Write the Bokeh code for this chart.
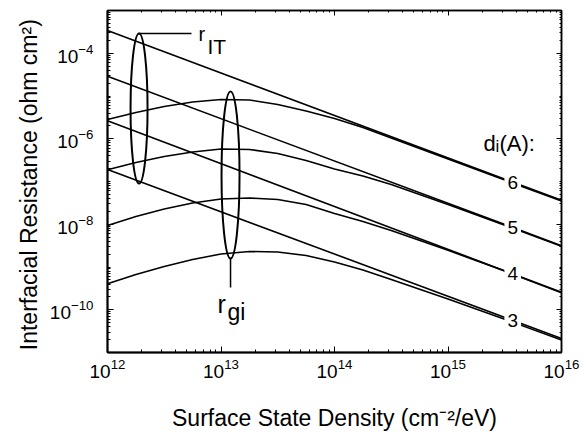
import math
from bokeh.plotting import figure
from bokeh.models import Range1d, FixedTicker, LogAxis, Label
from bokeh.embed import file_html
from bokeh.resources import INLINE

# ---- data ----
nss_line = [1e12, 1e16]
r_it_6 = [3.39e-4, 3.63e-8]
r_it_5 = [2.88e-5, 3.16e-9]
r_it_4 = [2.63e-6, 2.57e-10]
r_it_3 = [1.91e-7, 2.12e-11]

nss_curve = [1e12, 1.78e12, 3.16e12, 5.62e12, 1e13, 1.78e13, 3.16e13,
             5.62e13, 1e14, 1.78e14, 3.16e14, 1e15, 3.16e15, 1e16]
r_gi_6 = [2.82e-6, 4.11e-6, 5.68e-6, 7.24e-6, 8.28e-6, 8.06e-6, 6.33e-6,
          4.46e-6, 2.98e-6, 1.83e-6, 1.04e-6, 3.36e-7, 1.08e-7, 3.50e-8]
r_gi_5 = [1.88e-7, 2.78e-7, 3.85e-7, 4.90e-7, 5.75e-7, 5.61e-7, 4.52e-7,
          3.10e-7, 1.96e-7, 1.35e-7, 8.51e-8, 2.90e-8, 9.45e-9, 3.05e-9]
r_gi_4 = [9.35e-9, 1.52e-8, 2.27e-8, 3.14e-8, 3.90e-8, 4.11e-8, 3.79e-8,
          2.90e-8, 1.78e-8, 1.16e-8, 7.14e-9, 2.46e-9, 8.02e-10, 2.51e-10]
r_gi_3 = [4.05e-10, 6.68e-10, 1.03e-9, 1.50e-9, 2.01e-9, 2.31e-9, 2.24e-9,
          1.86e-9, 1.31e-9, 8.51e-10, 5.11e-10, 1.78e-10, 5.98e-11, 1.96e-11]

thickness_labels = ["6", "5", "4", "3"]
x_ticks = [1e12, 1e13, 1e14, 1e15, 1e16]
y_ticks = [1e-10, 1e-8, 1e-6, 1e-4]

FONT = "Liberation Sans"

p = figure(x_axis_type="log", y_axis_type="log",
           x_range=Range1d(1e12, 1e16), y_range=Range1d(1e-11, 1e-3),
           frame_width=454, frame_height=342,
           output_backend="svg", toolbar_location=None)
p.min_border_left = 107
p.min_border_right = 25
p.min_border_top = 10
p.min_border_bottom = 80
p.background_fill_color = "white"
p.border_fill_color = "white"
p.outline_line_color = "black"
p.outline_line_width = 1.5
p.xgrid.visible = False
p.ygrid.visible = False

x_minor = [k * 10 ** e for e in range(12, 16) for k in range(1, 10)]
y_minor = [k * 10.0 ** e for e in range(-11, -3) for k in range(1, 10)]

for ax in p.xaxis:
    ax.ticker = FixedTicker(ticks=x_ticks, minor_ticks=x_minor)
for ax in p.yaxis:
    ax.ticker = FixedTicker(ticks=y_ticks, minor_ticks=y_minor)

for ax in list(p.xaxis) + list(p.yaxis):
    ax.axis_line_width = 2
    ax.axis_line_color = "black"
    ax.major_tick_in = 6
    ax.major_tick_out = 0
    ax.minor_tick_in = 3
    ax.minor_tick_out = 0
    ax.major_tick_line_color = "black"
    ax.minor_tick_line_color = "black"
    ax.major_label_text_font = FONT
    ax.major_label_text_font_size = "19px"
    ax.major_label_text_color = "black"
    ax.axis_label_text_font = FONT
    ax.axis_label_text_font_size = "23px"
    ax.axis_label_text_font_style = "normal"
    ax.axis_label_text_color = "black"

p.xaxis.axis_label = "Surface State Density (cm\u207b\u00b2/eV)"
p.xaxis.major_label_standoff = 6
p.xaxis.axis_label_standoff = 24
p.yaxis.axis_label = "Interfacial  Resistance (ohm cm\u00b2)"
p.yaxis.major_label_standoff = 14
p.yaxis.axis_label_standoff = 5

# mirror ticks on top and right
top = LogAxis(ticker=FixedTicker(ticks=x_ticks, minor_ticks=x_minor),
              major_label_text_font_size="1px", major_label_text_color=None,
              major_tick_in=5, major_tick_out=0,
              minor_tick_in=2, minor_tick_out=0, major_label_standoff=0,
              axis_line_width=1.5)
right = LogAxis(ticker=FixedTicker(ticks=y_ticks, minor_ticks=y_minor),
                major_label_text_font_size="1px", major_label_text_color=None,
                major_tick_in=5, major_tick_out=0,
                minor_tick_in=2, minor_tick_out=0, major_label_standoff=0,
                axis_line_width=1.5)
p.add_layout(top, "above")
p.add_layout(right, "right")

lw = 1.6
for r in (r_it_6, r_it_5, r_it_4, r_it_3):
    p.line(nss_line, r, line_color="black", line_width=lw)
for r in (r_gi_6, r_gi_5, r_gi_4, r_gi_3):
    p.line(nss_curve, r, line_color="black", line_width=lw)

# ellipses marking the two families
p.ellipse(x=[10 ** 12.278], y=[10 ** -5.292], width=17, height=150,
          width_units="screen", height_units="screen",
          fill_color=None, line_color="black", line_width=2)
p.ellipse(x=[10 ** 13.084], y=[10 ** -6.848], width=18, height=167,
          width_units="screen", height_units="screen",
          fill_color=None, line_color="black", line_width=2)
# leader lines
p.line([10 ** 12.273, 10 ** 12.74], [10 ** -3.538, 10 ** -3.538],
       line_color="black", line_width=1.5)
p.line([10 ** 13.084, 10 ** 13.084], [10 ** -8.80, 10 ** -9.48],
       line_color="black", line_width=1.5)

def lab(x, y, text, size, xo=0, yo=0, align="left", baseline="alphabetic", bg=None):
    l = Label(x=x, y=y, text=text, x_offset=xo, y_offset=yo,
              text_font=FONT, text_font_size=size, text_color="black",
              text_align=align, text_baseline=baseline)
    if bg:
        l.background_fill_color = bg
        l.padding = 3
    p.add_layout(l)

# r_IT label
lab(10 ** 12.802, 10 ** -3.585, "r", "20px", yo=2)
lab(10 ** 12.802, 10 ** -3.585, "IT", "21px", xo=9, yo=-11)
# r_gi label
lab(10 ** 12.969, 10 ** -9.947, "r", "25px", yo=3)
lab(10 ** 12.969, 10 ** -9.947, "gi", "23px", xo=10, yo=-5)
# d_i(A):
lab(10 ** 15.313, 10 ** -6.205, "d", "22px", yo=4)
lab(10 ** 15.313, 10 ** -6.205, "i", "17px", xo=12, yo=1)
lab(10 ** 15.313, 10 ** -6.205, "(A):", "22px", xo=16, yo=4)

# thickness labels on the r_IT lines
lx = 15.57
for t, r in zip(thickness_labels, (r_it_6, r_it_5, r_it_4, r_it_3)):
    a0, a1 = math.log10(r[0]), math.log10(r[1])
    ly = a0 + (a1 - a0) * (lx - 12) / 4
    lab(10 ** lx, 10 ** ly, t, "19px", align="center", baseline="middle", bg="white")

open("out.html", "w").write(file_html(p, INLINE))
